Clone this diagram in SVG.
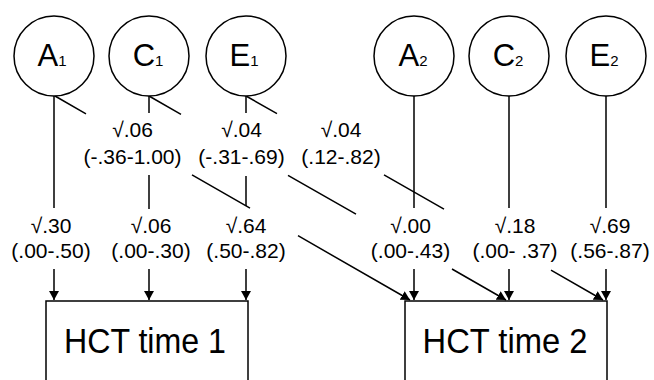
<svg xmlns="http://www.w3.org/2000/svg" width="654" height="380" viewBox="0 0 654 380">
<defs>
<style>
.lat circle{fill:#fff;stroke:#000;stroke-width:1.5}
.lat text{font-family:"Liberation Sans",Arial,Helvetica,sans-serif;font-size:31px;fill:#000;text-anchor:middle}
.lat .sub{font-size:15px}
.box rect{fill:#fff;stroke:#000;stroke-width:1.5}
.box text{font-family:"Liberation Sans",Arial,Helvetica,sans-serif;font-size:35px;fill:#000;text-anchor:middle}
.conn path{fill:none;stroke:#000;stroke-width:1.5}
.conn .arr{marker-end:url(#ah)}
.lbl text{font-family:"Liberation Sans",Arial,Helvetica,sans-serif;font-size:21px;fill:#000;text-anchor:middle}
</style>
<marker id="ah" viewBox="0 0 9 10" refX="9" refY="5" markerWidth="9" markerHeight="10" markerUnits="userSpaceOnUse" orient="auto">
<path d="M0,0 L9,5 L0,10 z" fill="#000"/>
</marker>
</defs>
<rect width="654" height="380" fill="#fff"/>

<g id="connectors" class="conn">
<path class="arr" d="M54,96 V208 M54,269 V300"/>
<path class="arr" d="M149,96 V113 M149,175 V209 M149,269 V300"/>
<path class="arr" d="M246,96 V113 M246,176 V206 M246,269 V300"/>
<path class="arr" d="M414,96 V208 M414,269 V300"/>
<path class="arr" d="M509,96 V208 M509,269 V300"/>
<path class="arr" d="M606,96 V208 M606,269 V300"/>
<path class="arr" d="M55,96 L86,113.8 M192,174.8 L250,208.1 M298,235.7 L410,300"/>
<path class="arr" d="M149,96 L181,114.3 M288,175.4 L356,214.2 M452,269 L506,300"/>
<path class="arr" d="M246,96 L277,113.7 M384,174.8 L444,209.1 M551,270.2 L603,300"/>
</g>

<g id="A1" class="lat"><circle cx="54" cy="56" r="40"/><text x="52" y="66">A<tspan class="sub">1</tspan></text></g>
<g id="C1" class="lat"><circle cx="149" cy="56" r="40"/><text x="148" y="66">C<tspan class="sub">1</tspan></text></g>
<g id="E1" class="lat"><circle cx="246" cy="56" r="40"/><text x="244" y="66">E<tspan class="sub">1</tspan></text></g>
<g id="A2" class="lat"><circle cx="414" cy="56" r="40"/><text x="413" y="66">A<tspan class="sub">2</tspan></text></g>
<g id="C2" class="lat"><circle cx="509" cy="56" r="40"/><text x="508" y="66">C<tspan class="sub">2</tspan></text></g>
<g id="E2" class="lat"><circle cx="606" cy="56" r="40"/><text x="604" y="66">E<tspan class="sub">2</tspan></text></g>

<g id="HCT1" class="box"><rect x="46" y="301" width="202" height="100"/><text x="145" y="353" textLength="162" lengthAdjust="spacingAndGlyphs">HCT time 1</text></g>
<g id="HCT2" class="box"><rect x="405" y="301" width="202" height="100"/><text x="505" y="353" textLength="165" lengthAdjust="spacingAndGlyphs">HCT time 2</text></g>

<g id="labels" class="lbl">
<text x="132.5" y="137">√.06</text><text x="132.5" y="164">(-.36-1.00)</text>
<text x="241.5" y="137">√.04</text><text x="241.5" y="164">(-.31-.69)</text>
<text x="341" y="137">√.04</text><text x="341" y="164">(.12-.82)</text>
<text x="51" y="233">√.30</text><text x="51" y="258">(.00-.50)</text>
<text x="151" y="233">√.06</text><text x="151" y="258">(.00-.30)</text>
<text x="246" y="233">√.64</text><text x="246" y="258">(.50-.82)</text>
<text x="410.5" y="233">√.00</text><text x="410.5" y="258">(.00-.43)</text>
<text x="515" y="233">√.18</text><text x="515" y="258">(.00- .37)</text>
<text x="610" y="233">√.69</text><text x="610" y="258">(.56-.87)</text>
</g>
</svg>
